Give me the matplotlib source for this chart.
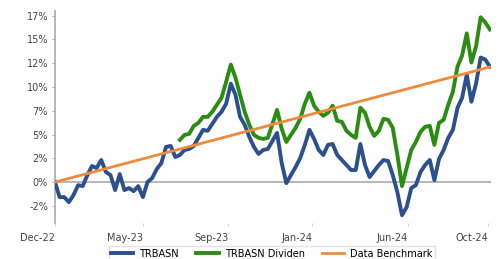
import pandas as pd
import matplotlib
matplotlib.use("Agg")
import matplotlib.pyplot as plt

# weekly closes, % change since Dec-22
start = "2022-12-30"

trbasn = [0.00, -1.58, -1.58, -2.11, -1.37, -0.32, -0.42, 0.74, 1.69, 1.48,
          2.32, 1.06, 0.74, -0.84, 0.84, -0.84, -0.63, -0.95, -0.42, -1.58,
          0.00, 0.42, 1.37, 2.01, 3.70, 3.80, 2.64, 2.85, 3.38, 3.48,
          3.80, 4.65, 5.49, 5.39, 6.12, 6.86, 7.39, 8.24, 10.35, 9.19,
          6.86, 6.02, 4.75, 3.70, 2.96, 3.38, 3.48, 4.33, 5.17, 2.01,
          -0.11, 0.74, 1.58, 2.53, 3.91, 5.49, 4.54, 3.38, 2.85, 3.91,
          4.01, 2.85, 2.32, 1.80, 1.27, 1.27, 4.01, 1.80, 0.53, 1.16,
          1.80, 2.32, 2.22, 0.74, -1.06, -3.48, -2.64, -0.63, -0.32, 1.06,
          1.80, 2.32, 0.21, 2.43, 3.38, 4.65, 5.49, 7.81, 8.87, 11.30,
          8.45, 10.35, 13.09, 12.88, 12.14]

# dividend series only shown from Jul-23 on
trbasn_div = [None] * 27 + [
    4.44, 4.96, 5.07, 5.91, 6.23, 6.86, 6.86, 7.39, 8.13, 8.87,
    10.56, 12.35, 10.98, 9.19, 7.39, 6.02, 4.96, 4.65, 4.54, 4.65,
    6.12, 7.60, 5.60, 4.22, 4.96, 5.70, 6.65, 8.24, 9.40, 8.03,
    7.39, 6.97, 7.29, 8.03, 6.44, 6.34, 5.39, 4.96, 4.65, 7.81,
    7.29, 5.81, 4.86, 5.39, 6.65, 6.55, 5.70, 2.85, -0.42, 1.48,
    3.38, 4.22, 5.28, 5.81, 5.91, 3.91, 6.23, 6.55, 8.13, 9.50,
    12.14, 13.31, 15.63, 12.57, 14.26, 17.32, 16.79, 16.05]

bench_dates = ["2022-12-30", "2024-10-18"]
bench = [0.0, 12.1]

xtick_dates = ["2022-12-30", "2023-05-12", "2023-09-18",
               "2024-01-23", "2024-06-16", "2024-10-15"]
xtick_labels = ["Dec-22", "May-23", "Sep-23", "Jan-24", "Jun-24", "Oct-24"]
ytick_vals = [-2.5, 0, 2.5, 5, 7.5, 10, 12.5, 15, 17.5]
ytick_labels = ["-2%", "0%", "2%", "5%", "7%", "10%", "12%", "15%", "17%"]

dates = pd.date_range(start, periods=len(trbasn), freq="7D")
df = pd.DataFrame({"TRBASN": trbasn, "TRBASN Dividen": trbasn_div}, index=dates)
df = df.astype(float)

fig = plt.figure(figsize=(4.98, 2.59), dpi=100)
ax = fig.add_axes([0.1104, 0.139, 0.876, 0.819])

ax.axhline(0, color="#aaaaaa", lw=1.2, zorder=1)
ax.plot(df.index, df["TRBASN Dividen"], color="#2b8c12", lw=2.8,
        label="TRBASN Dividen", zorder=2)
ax.plot(df.index, df["TRBASN"], color="#2c4f8e", lw=2.8,
        label="TRBASN", zorder=3)
ax.plot(pd.to_datetime(bench_dates), bench, color="#ef8a3c", lw=2.0,
        label="Data Benchmark", zorder=4)

ax.set_xlim(pd.Timestamp(start), pd.Timestamp(start) + pd.Timedelta(days=660))
ax.set_ylim(-4.3, 18.0)

ax.set_xticks(pd.to_datetime(xtick_dates))
ax.set_xticklabels(xtick_labels, ha="right")
ax.set_yticks(ytick_vals)
ax.set_yticklabels(ytick_labels)

for s in ["top", "right", "bottom"]:
    ax.spines[s].set_visible(False)
ax.spines["left"].set_color("#aaaaaa")
ax.spines["left"].set_linewidth(1.2)

ax.tick_params(axis="both", labelsize=7, colors="#444444", length=2,
               width=0.6, pad=3)
ax.tick_params(axis="x", color="#cccccc", pad=5)
ax.tick_params(axis="y", color="#aaaaaa")

h, l = ax.get_legend_handles_labels()
order = [1, 0, 2]
leg = fig.legend([h[i] for i in order], [l[i] for i in order],
                 loc="upper center", bbox_to_anchor=(0.546, 0.068),
                 ncol=3, fontsize=7, frameon=True, fancybox=False,
                 edgecolor="#dddddd", handlelength=2.3, columnspacing=1.8,
                 borderpad=0.25, handletextpad=0.6)

fig.savefig("out.png", dpi=100)
